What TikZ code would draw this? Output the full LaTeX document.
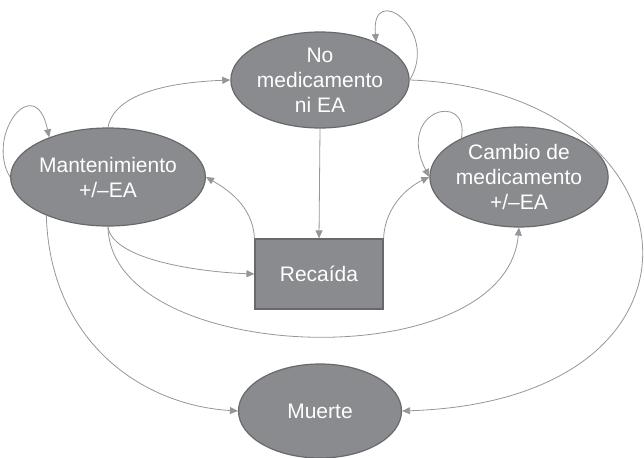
\documentclass[tikz,border=0pt]{standalone}
\usepackage{fontspec}
\setmainfont{Liberation Sans}
\usetikzlibrary{arrows.meta,shapes.geometric}
\definecolor{grisestado}{RGB}{138,139,142}
\definecolor{grisborde}{RGB}{104,105,107}
\definecolor{grisflecha}{RGB}{150,150,153}

\begin{document}
\begin{tikzpicture}[x=1pt,y=-1pt,
  estado/.style={ellipse,draw=grisborde,line width=1.2pt,fill=grisestado,text=white,inner sep=0pt,align=center,minimum width=163pt,minimum height=96pt,font=\fontsize{21}{25}\selectfont},
  caja/.style={rectangle,draw=grisborde,line width=1.2pt,fill=grisestado,text=white,minimum width=128pt,minimum height=70pt,font=\fontsize{21}{25}\selectfont},
  flujo/.style={draw=grisflecha,line width=0.8pt,-{Triangle[length=8pt,width=7pt]},fill=none}]
\useasboundingbox (0,0) rectangle (644,457);
\node[estado] (nomed) at (320,80) {No\\medicamento\\ni EA};
\node[estado,minimum width=162pt,minimum height=98pt] (mant) at (108,177) {Mantenimiento\\+/–EA};
\node[estado,minimum width=162pt,minimum height=100pt] (cambio) at (519,177) {Cambio de\\medicamento\\+/–EA};
\node[caja] (recaida) at (319,274) {Recaída};
\node[estado,minimum height=94pt] (muerte) at (320,411) {Muerte};
\draw[flujo] (nomed.east) .. controls (440,30) and (370,-20) .. (nomed.34); \draw[flujo] (mant.west) .. controls (-15,135) and (35,70) .. (mant.146);
\draw[flujo] (cambio.146) .. controls (470,90) and (395,110) .. (cambio.west);
\draw[flujo] (mant.north) .. controls (115,90) and (180,82) .. (nomed.west); \draw[flujo] (nomed.south) -- (recaida.north);
\draw[flujo] (recaida.north west) .. controls (253,205) and (225,188) .. (mant.east); \draw[flujo] (recaida.north east) .. controls (385,205) and (410,186) .. (cambio.west);
\draw[flujo] (mant.south) .. controls (112,260) and (200,272) .. (recaida.west); \draw[flujo] (mant.south) .. controls (110,365) and (505,380) .. (cambio.south);
\draw[flujo] (mant.212) .. controls (50,340) and (140,405) .. (muerte.west); \draw[flujo] (nomed.east) .. controls (700,90) and (740,400) .. (muerte.east);
\end{tikzpicture}
\end{document}
